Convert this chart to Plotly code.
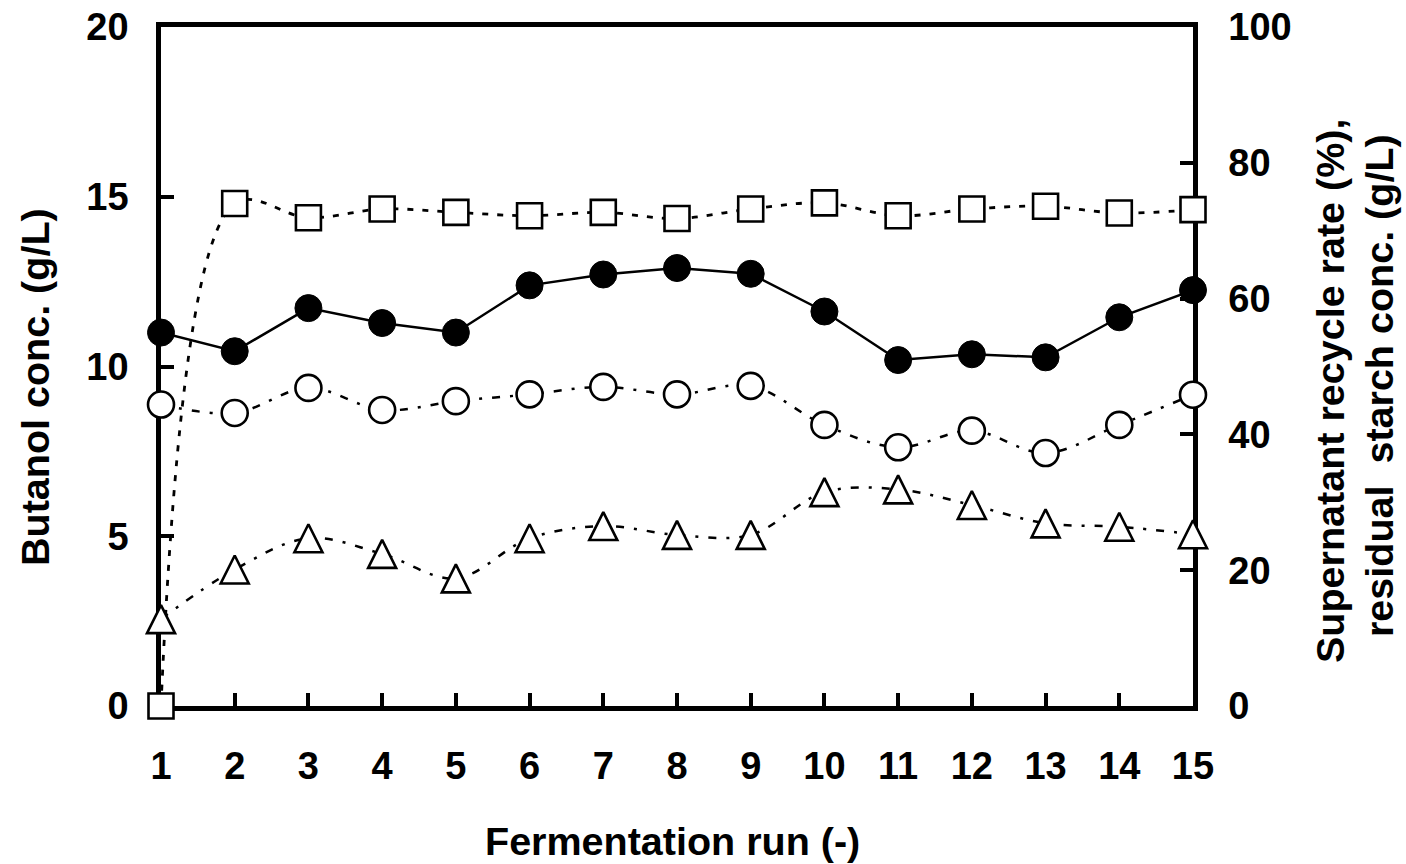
import plotly.graph_objects as go

# ---------------- data ----------------
runs = list(range(1, 16))
x_tick_labels = [str(r) for r in runs]

# Butanol conc. (g/L) - filled circles, left axis
butanol_filled = [11.00, 10.45, 11.72, 11.28, 11.00, 12.39, 12.71, 12.90, 12.73,
                  11.62, 10.19, 10.36, 10.27, 11.45, 12.25]
# open circles, left axis (g/L)
butanol_open = [8.88, 8.63, 9.37, 8.72, 8.98, 9.18, 9.40, 9.18, 9.43,
                8.28, 7.62, 8.11, 7.45, 8.28, 9.17]
# Supernatant recycle rate (%) - open squares, right axis
recycle_rate = [0.0, 74.0, 71.9, 73.2, 72.7, 72.2, 72.7, 71.8, 73.2,
                74.1, 72.2, 73.2, 73.6, 72.6, 73.1]
# Residual starch conc. (g/L) - open triangles, right axis
residual_starch = [12.8, 20.1, 24.7, 22.4, 18.8, 24.7, 26.5, 25.2, 25.2,
                   31.5, 31.9, 29.6, 26.9, 26.4, 25.3]

left_ticks = [0, 5, 10, 15, 20]
right_ticks = [0, 20, 40, 60, 80, 100]

# ---------------- layout constants ----------------
W, H = 1406, 864
L, R, T, B = 161, 1193, 27, 706   # plot box in window pixels
FONT = "Liberation Sans, Arial, Helvetica, sans-serif"
FS = 38
FS_T = 39.5
BLACK = "black"


def px_to_paper(px, py):
    return (px - L) / (R - L), (B - py) / (B - T)


fig = go.Figure()

# squares (recycle rate) - dotted smoothed
fig.add_trace(go.Scatter(
    x=runs, y=recycle_rate, yaxis="y2", mode="lines+markers", cliponaxis=False,
    line=dict(color=BLACK, width=2.8, dash="6px,9px", shape="spline", smoothing=1, backoff=0),
    marker=dict(symbol="square", size=25, color="white", line=dict(color=BLACK, width=2.6)),
    showlegend=False))

# triangles (residual starch) - dashed smoothed
fig.add_trace(go.Scatter(
    x=runs, y=residual_starch, yaxis="y2", mode="lines+markers", cliponaxis=False,
    line=dict(color=BLACK, width=2.5, dash="8px,10px,3px,10px", shape="spline", smoothing=1, backoff=0),
    marker=dict(symbol="arrow-down", angle=180, standoff=14, size=28, color="white",
                line=dict(color=BLACK, width=2.6)),
    showlegend=False))

# open circles - dash-dot smoothed
fig.add_trace(go.Scatter(
    x=runs, y=butanol_open, mode="lines+markers", cliponaxis=False,
    line=dict(color=BLACK, width=2.5, dash="8px,10px,3px,10px", shape="spline", smoothing=1),
    marker=dict(symbol="circle", size=26, color="white", line=dict(color=BLACK, width=2.6)),
    showlegend=False))

# filled circles - solid
fig.add_trace(go.Scatter(
    x=runs, y=butanol_filled, mode="lines+markers", cliponaxis=False,
    line=dict(color=BLACK, width=2.5),
    marker=dict(symbol="circle", size=27, color=BLACK, line=dict(color=BLACK, width=1)),
    showlegend=False))

tickfont = dict(family=FONT, size=FS, color=BLACK, weight="bold")
axis_common = dict(showline=True, linecolor=BLACK, linewidth=4.5, ticks="inside",
                   ticklen=13, tickwidth=4, tickcolor=BLACK, showgrid=False,
                   zeroline=False, tickfont=tickfont, layer="below traces",
                   ticklabeloverflow="allow", automargin=False)

fig.update_layout(
    width=W, height=H,
    margin=dict(l=L, r=W - R, t=T, b=H - B, pad=0, autoexpand=False),
    paper_bgcolor="white", plot_bgcolor="white",
    hovermode=False,
    xaxis=dict(range=[1, 15], tickmode="array", tickvals=runs, ticktext=x_tick_labels,
               mirror=True, ticklabelstandoff=23, **axis_common),
    yaxis=dict(range=[0, 20], tickmode="array", tickvals=left_ticks,
               ticklabelstandoff=20, **axis_common),
    yaxis2=dict(range=[0, 100], tickmode="array", tickvals=right_ticks,
                overlaying="y", side="right", ticklabelstandoff=23, **axis_common),
)

title_font = dict(family=FONT, size=FS_T, color=BLACK, weight="bold")
annots = [
    ("Fermentation run (-)", 672, 841, 0),
    ("Butanol conc. (g/L)", 35, 387, -90),
    ("Supernatant recycle rate (%),", 1330, 391, -90),
    ("residual&nbsp; starch conc. (g/L)", 1379, 386, -90),
]
for text, px, py, ang in annots:
    ax, ay = px_to_paper(px, py)
    fig.add_annotation(text=text, x=ax, y=ay, xref="paper", yref="paper",
                       showarrow=False, textangle=ang, font=title_font,
                       xanchor="center", yanchor="middle")

fig.write_html("out.html", config={"displayModeBar": False},
               post_script="document.body.style.margin='0px';")
